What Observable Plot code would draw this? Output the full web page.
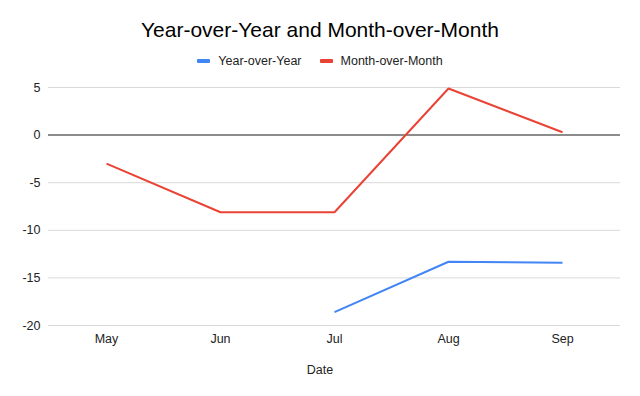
<!DOCTYPE html>
<html>
<head>
<meta charset="utf-8">
<script src="https://cdn.jsdelivr.net/npm/d3@7"></script>
<script src="https://cdn.jsdelivr.net/npm/@observablehq/plot@0.6"></script>
<style>
  html, body { margin: 0; padding: 0; background: #fff; }
  body { width: 640px; height: 396px; overflow: hidden; font-family: "Liberation Sans", Arial, sans-serif; }
  #header { height: 75px; position: relative; }
  #title { position: absolute; top: 17px; left: 0; width: 640px; text-align: center; font-size: 21px; color: #000; line-height: 26px; }
  #legend { position: absolute; top: 53px; left: 0; width: 640px; display: flex; justify-content: center; gap: 18px; font-size: 12.5px; color: #222; line-height: 16px; }
  .item { display: flex; align-items: center; }
  .sw { width: 13px; height: 4px; border-radius: 1px; margin-right: 8px; }
  #xlabel { height: 30px; line-height: 30px; text-align: center; font-size: 12.5px; color: #222; }
</style>
</head>
<body>
<div id="header">
  <div id="title">Year-over-Year and Month-over-Month</div>
  <div id="legend"></div>
</div>
<div id="chart"></div>
<div id="xlabel">Date</div>
<script>
const months = ["May", "Jun", "Jul", "Aug", "Sep"];
const yearOverYear = [null, null, -18.6, -13.3, -13.4];
const monthOverMonth = [-3.0, -8.1, -8.1, 4.9, 0.3];
const seriesNames = ["Year-over-Year", "Month-over-Month"];
const seriesColors = ["#4285F4", "#EA4335"];
const yTicks = [-20, -15, -10, -5, 0, 5];

const rows = [];
months.forEach((m, i) => {
  rows.push({month: m, value: yearOverYear[i] == null ? NaN : yearOverYear[i], series: seriesNames[0]});
  rows.push({month: m, value: monthOverMonth[i], series: seriesNames[1]});
});

const legend = document.getElementById("legend");
seriesNames.forEach((s, i) => {
  const it = document.createElement("div");
  it.className = "item";
  it.innerHTML = `<span class="sw" style="background:${seriesColors[i]}"></span><span>${s}</span>`;
  legend.appendChild(it);
});

const chart = Plot.plot({
  width: 640,
  height: 280,
  marginLeft: 48,
  marginRight: 20,
  marginTop: 12,
  marginBottom: 30,
  style: {fontFamily: "'Liberation Sans', Arial, sans-serif", fontSize: "12.5px", color: "#222", background: "#fff"},
  x: {type: "point", domain: months, padding: 0.5, label: null, tickSize: 0, tickPadding: 9},
  y: {domain: [-20, 5], ticks: yTicks, label: null, tickSize: 0, tickPadding: 8, tickFormat: d => String(d)},
  color: {domain: seriesNames, range: seriesColors},
  marks: [
    Plot.ruleY(yTicks.filter(d => d !== 0), {stroke: "#d9d9d9", strokeWidth: 1, strokeOpacity: 1}),
    Plot.ruleY([0], {stroke: "#666", strokeWidth: 1.5}),
    Plot.line(rows, {x: "month", y: "value", z: "series", stroke: "series", strokeWidth: 2, strokeLinejoin: "miter", strokeLinecap: "butt"})
  ]
});
document.getElementById("chart").appendChild(chart);
</script>
</body>
</html>
